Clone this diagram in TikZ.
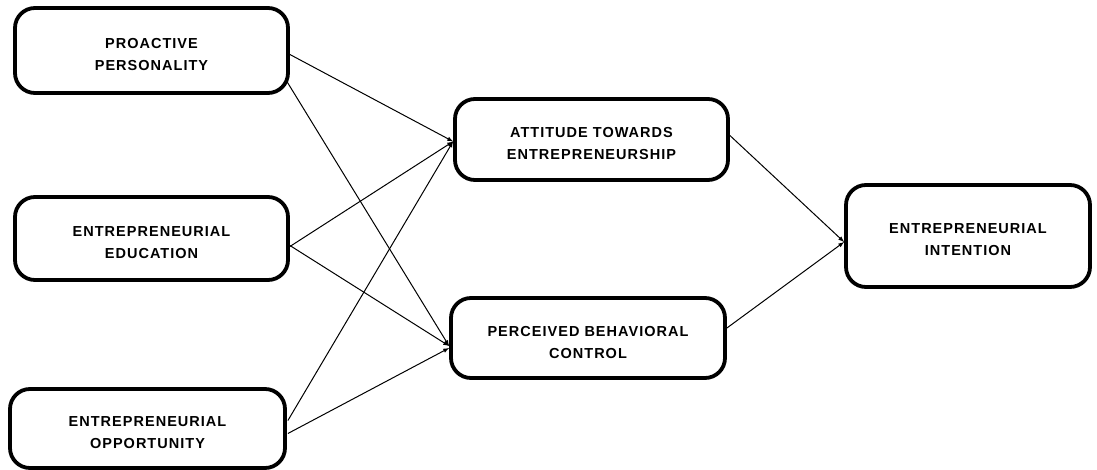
\documentclass[tikz,border=0pt]{standalone}
\usepackage{fontspec}
\setmainfont{Liberation Sans}
\usepackage{tikz}
\usetikzlibrary{arrows,calc,positioning}

\begin{document}
\begin{tikzpicture}[x=1pt, y=-1pt]
	\tikzstyle{every node} = [rectangle, rounded corners=20pt, draw = black, line width=3.8pt, align=center, inner sep=0pt,
		text height=43pt, text depth=3pt, font=\fontsize{14.5}{22}\selectfont\bfseries\addfontfeature{LetterSpace=7}]
	\tikzstyle{link} = [draw, ->, >=latex, line width=1pt]
	\useasboundingbox (0,0) rectangle (1097,470);
\node[minimum width=273pt, minimum height=85pt] (pp) at (151.5, 50.5) {PROACTIVE\\PERSONALITY};
\node[minimum width=273pt, minimum height=83pt] (ee) at (151.5, 238.5) {ENTREPRENEURIAL\\EDUCATION};
\node[minimum width=275pt, minimum height=79pt] (eo) at (147.5, 428.5) {ENTREPRENEURIAL\\OPPORTUNITY};
\node[minimum width=273pt, minimum height=81pt] (ate) at (591.5, 139.5) {ATTITUDE TOWARDS\\ENTREPRENEURSHIP};
\node[minimum width=274pt, minimum height=80pt] (pbc) at (588, 338) {PERCEIVED BEHAVIORAL\\CONTROL};
\node[minimum width=244pt, minimum height=102pt] (ei) at (968, 236) {ENTREPRENEURIAL\\INTENTION};

	\path[link] ([yshift=-4pt]pp.east) -- ([yshift=-2pt]ate.west);
	\path[link] ([xshift=-3pt, yshift=-31pt]pp.east) -- ([yshift=-8pt]pbc.west);
	\path[link] ([yshift=-8pt]ee.east) -- ([yshift=-2pt]ate.west);
	\path[link] ([yshift=-7pt]ee.east) -- ([yshift=-8pt]pbc.west);
	\path[link] ([xshift=1pt, yshift=8pt]eo.east) -- ([yshift=-2pt]ate.west);
	\path[link] ([xshift=1pt, yshift=-5pt]eo.east) -- ([yshift=-10pt]pbc.west);
	\path[link] ([yshift=4pt]ate.east) -- ([yshift=-6pt]ei.west);
	\path[link] ([yshift=10pt]pbc.east) -- ([yshift=-6pt]ei.west);
\end{tikzpicture}
\end{document}
